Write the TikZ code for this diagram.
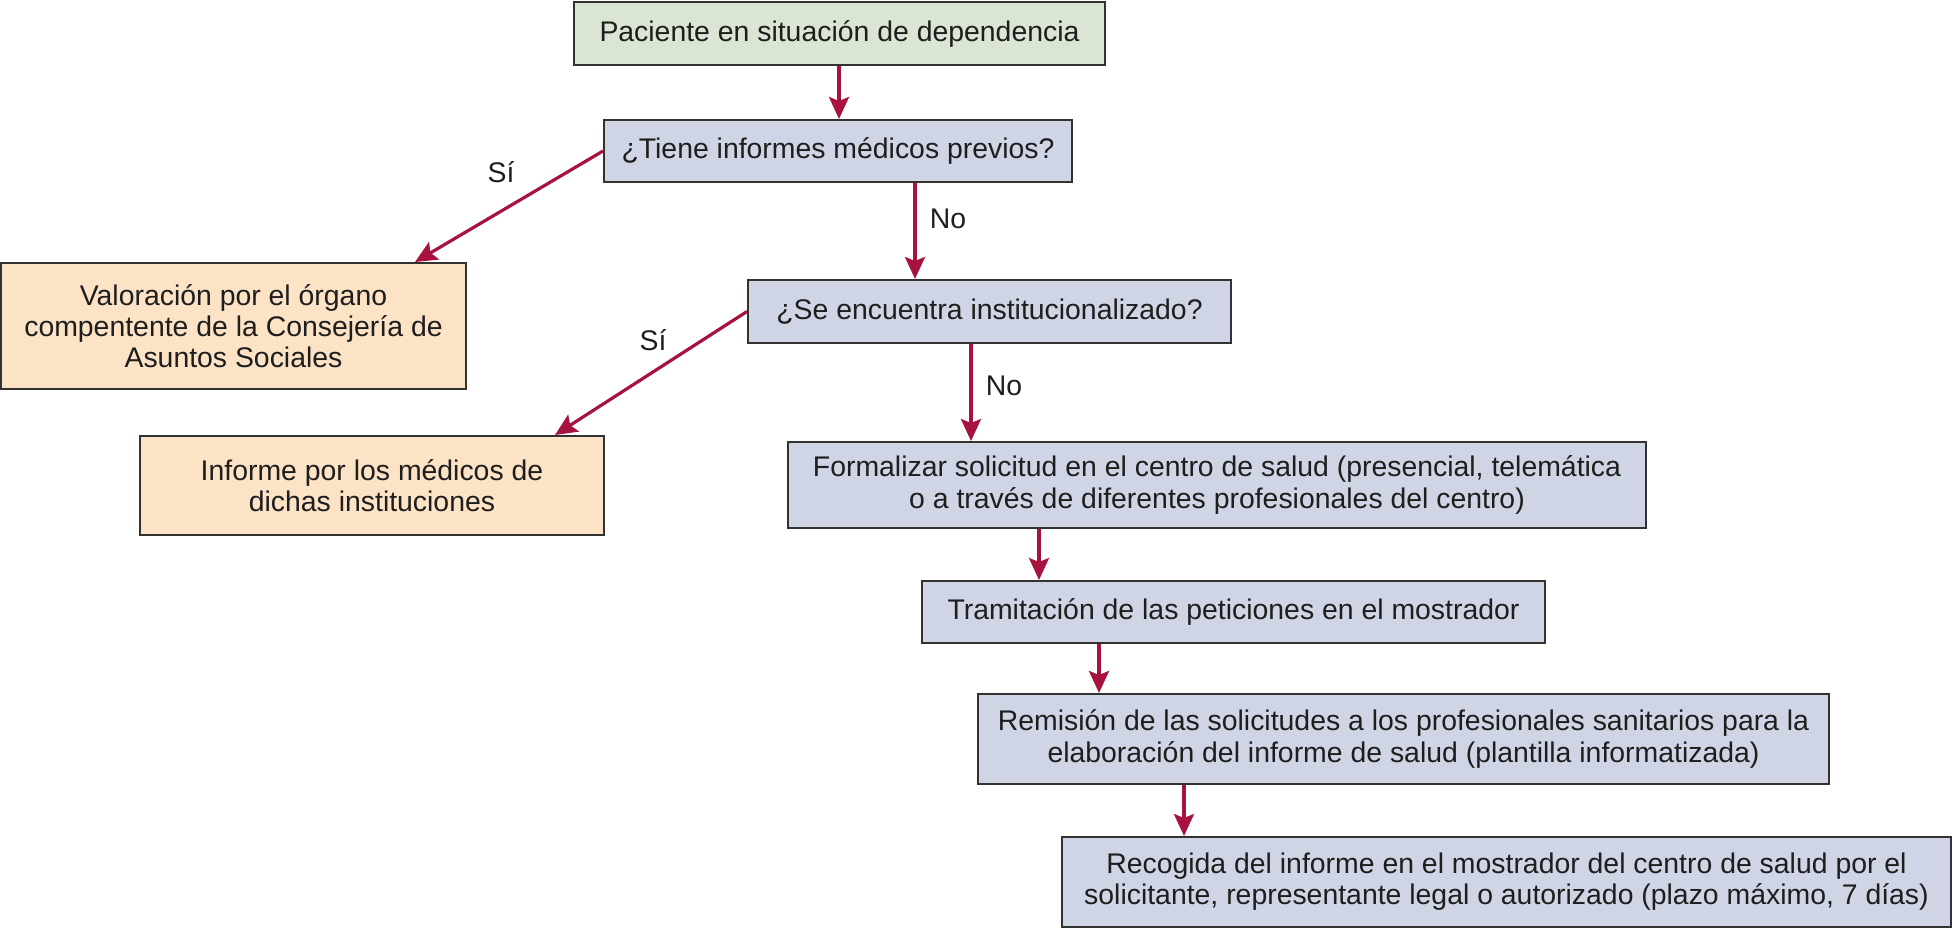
\documentclass[tikz,border=0pt]{standalone}
\usepackage{fontspec}
\setmainfont{Liberation Sans}
\usetikzlibrary{arrows.meta,calc}
\definecolor{boxgreen}{RGB}{218,229,212}
\definecolor{boxblue}{RGB}{207,213,228}
\definecolor{boxpeach}{RGB}{253,227,198}
\definecolor{arrowred}{RGB}{168,18,62}
\definecolor{edgegray}{RGB}{50,50,50}
\definecolor{txt}{RGB}{30,30,30}
\begin{document}
\begin{tikzpicture}[x=0.5pt,y=-0.5pt,
  fbox/.style={draw=edgegray, line width=1pt, inner sep=0pt, align=center,
    text=txt, font=\fontsize{14.2}{15.6}\selectfont},
  greenbox/.style={fbox, fill=boxgreen},
  bluebox/.style={fbox, fill=boxblue},
  peachbox/.style={fbox, fill=boxpeach},
  flow/.style={draw=arrowred, line width=1.6pt,
    -{Stealth[length=11pt,width=10pt,inset=2pt]}},
  lab/.style={text=txt, font=\fontsize{14.2}{15.6}\selectfont, inner sep=0pt}]
\useasboundingbox (0,0) rectangle (1954,928);
\node[greenbox, minimum width=531*0.5pt, minimum height=63*0.5pt] (b1) at (839.5,33.5) {Paciente en situación de dependencia};
\node[bluebox, minimum width=468*0.5pt, minimum height=62*0.5pt] (b2) at (838,151) {¿Tiene informes médicos previos?};
\node[peachbox, minimum width=465*0.5pt, minimum height=126*0.5pt] (b3) at (233.5,326) {Valoración por el órgano\\compentente de la Consejería de\\Asuntos Sociales};
\node[bluebox, minimum width=483*0.5pt, minimum height=63*0.5pt] (b4) at (989.5,311.5) {¿Se encuentra institucionalizado?};
\node[peachbox, minimum width=464*0.5pt, minimum height=99*0.5pt] (b5) at (372,485.5) {Informe por los médicos de\\dichas instituciones};
\node[bluebox, minimum width=858*0.5pt, minimum height=86*0.5pt] (b6) at (1217,485) {Formalizar solicitud en el centro de salud (presencial, telemática\\o a través de diferentes profesionales del centro)};
\node[bluebox, minimum width=623*0.5pt, minimum height=62*0.5pt] (b7) at (1233.5,612) {Tramitación de las peticiones en el mostrador};
\node[bluebox, minimum width=851*0.5pt, minimum height=90*0.5pt] (b8) at (1403.5,739) {Remisión de las solicitudes a los profesionales sanitarios para la\\elaboración del informe de salud (plantilla informatizada)};
\node[bluebox, minimum width=889*0.5pt, minimum height=90*0.5pt] (b9) at (1506.5,882) {Recogida del informe en el mostrador del centro de salud por el\\solicitante, representante legal o autorizado (plazo máximo, 7 días)};

\draw[flow] (b1.south -| 839,0) -- (b2.north -| 839,0);
\draw[flow] (b2.west) -- (b3.north -| 415,0);
\draw[flow] (b2.south -| 915,0) -- (b4.north -| 915,0);
\draw[flow] (b4.west) -- (b5.north -| 555,0);
\draw[flow] (b4.south -| 971,0) -- (b6.north -| 971,0);
\draw[flow] (b6.south -| 1039,0) -- (b7.north -| 1039,0);
\draw[flow] (b7.south -| 1099,0) -- (b8.north -| 1099,0);
\draw[flow] (b8.south -| 1184,0) -- (b9.north -| 1184,0);

\node[lab] (si1) at (501,172) {Sí};
\node[lab] (no1) at (948,219) {No};
\node[lab] (si2) at (653,340) {Sí};
\node[lab] (no2) at (1004,386) {No};
\end{tikzpicture}
\end{document}
